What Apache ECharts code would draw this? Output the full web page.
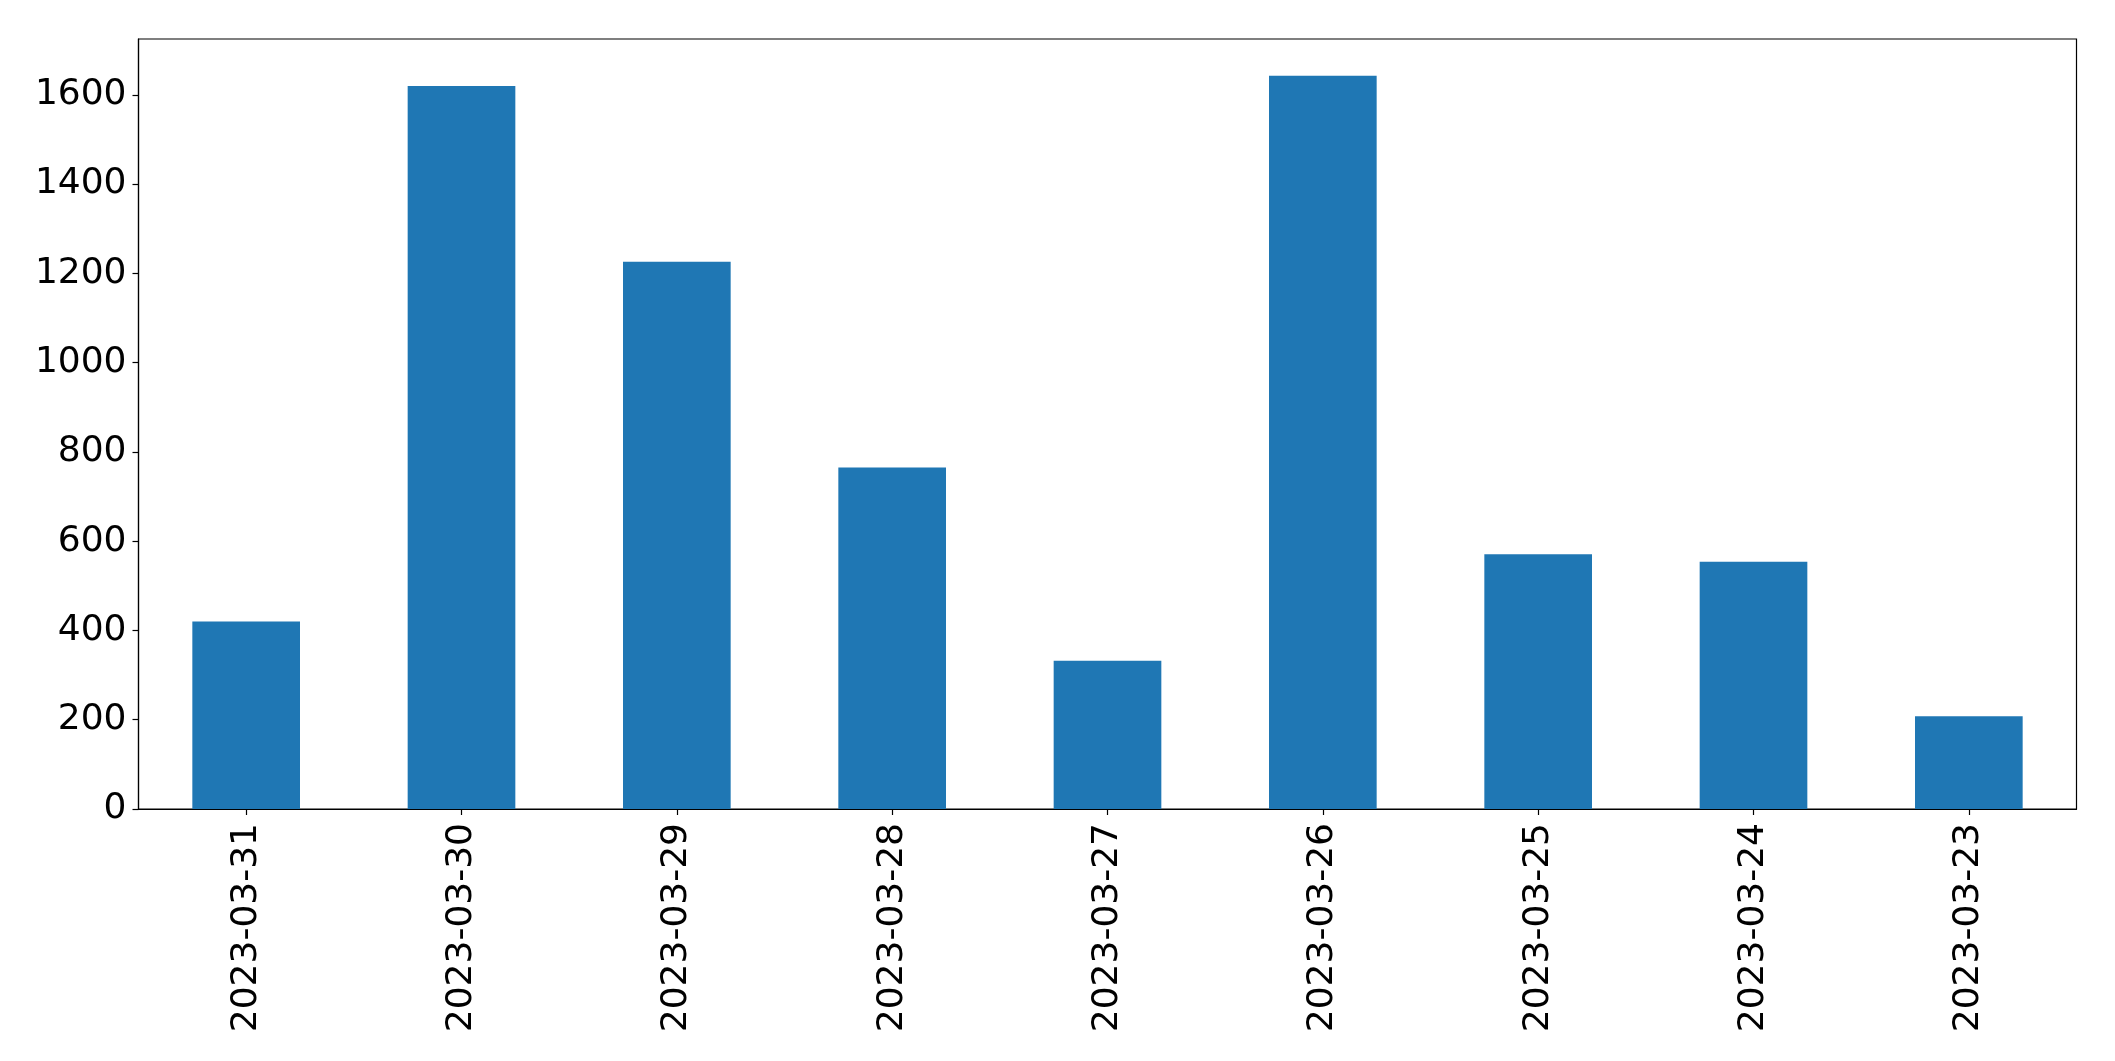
<!DOCTYPE html>
<html>
<head>
<meta charset="utf-8">
<script src="https://cdn.jsdelivr.net/npm/echarts@6/dist/echarts.min.js"></script>
<style>
html,body{margin:0;padding:0;background:#fff;}
#chart{width:2115px;height:1061px;}
</style>
</head>
<body>
<div id="chart"></div>
<script>
const categories = ['2023-03-31','2023-03-30','2023-03-29','2023-03-28','2023-03-27','2023-03-26','2023-03-25','2023-03-24','2023-03-23'];
const values = [420, 1620, 1226, 765, 332, 1643, 571, 554, 208];
const yTicks = [0, 200, 400, 600, 800, 1000, 1200, 1400, 1600];

const chart = echarts.init(document.getElementById('chart'), null, {renderer: 'canvas'});
const font = 'DejaVu Sans';
chart.setOption({
  animation: false,
  backgroundColor: '#ffffff',
  grid: {
    left: 138.5, right: 38.5, top: 39, bottom: 252,
    show: true, borderColor: '#000', borderWidth: 1.2, backgroundColor: 'transparent'
  },
  xAxis: {
    type: 'category',
    data: categories,
    axisLine: {show: true, lineStyle: {color: '#000', width: 1.2}},
    axisTick: {show: true, alignWithLabel: true, length: 6, lineStyle: {color: '#000', width: 1.2}},
    axisLabel: {rotate: 90, fontSize: 36, fontFamily: font, color: '#000', margin: 14, interval: 0},
    splitLine: {show: false}
  },
  yAxis: {
    type: 'value',
    min: 0,
    max: Math.max(...values) * 1.05,
    interval: 200,
    axisLine: {show: true, lineStyle: {color: '#000', width: 1.2}},
    axisTick: {show: true, length: 6, lineStyle: {color: '#000', width: 1.2}},
    axisLabel: {
      fontSize: 36, fontFamily: font, color: '#000', margin: 12, showMaxLabel: false,
      formatter: v => (yTicks.includes(v) ? String(v) : '')
    },
    splitLine: {show: false}
  },
  series: [{
    type: 'bar',
    data: values,
    barWidth: '50%',
    itemStyle: {color: '#1f77b4'}
  }]
});
</script>
</body>
</html>
